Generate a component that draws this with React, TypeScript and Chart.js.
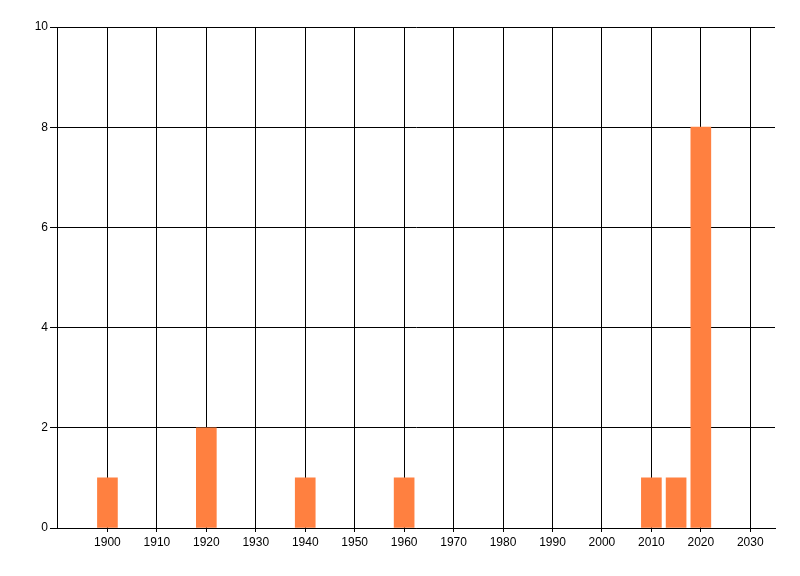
import React, { useEffect, useRef } from "react";
import { Chart, registerables } from "chart.js";

Chart.register(...registerables);

const years = [1900, 1920, 1940, 1960, 2010, 2015, 2020];
const counts = [1, 2, 1, 1, 1, 1, 8];
const xTickValues = [1900, 1910, 1920, 1930, 1940, 1950, 1960, 1970, 1980, 1990, 2000, 2010, 2020, 2030];
const yTickValues = [0, 2, 4, 6, 8, 10];

export default function App() {
  const ref = useRef<HTMLCanvasElement | null>(null);
  useEffect(() => {
    if (!ref.current) return;
    const font = { family: "'Liberation Sans', Arial, sans-serif", size: 12 };
    const chart = new Chart(ref.current, {
      type: "bar",
      data: {
        datasets: [
          {
            data: years.map((y, i) => ({ x: y, y: counts[i] })),
            backgroundColor: "#FF8040",
            borderWidth: 0,
            barThickness: 20,
          },
        ],
      },
      options: {
        animation: false,
        responsive: false,
        maintainAspectRatio: false,
        layout: { padding: { top: 27, right: 25, left: 0, bottom: 0 } },
        plugins: { legend: { display: false }, tooltip: { enabled: false } },
        scales: {
          x: {
            type: "linear",
            min: 1889.8,
            max: 2035,
            offset: false,
            afterBuildTicks: (scale: any) => {
              scale.ticks = xTickValues.map((v) => ({ value: v }));
            },
            afterFit: (scale: any) => {
              scale.height = 48;
            },
            grid: { color: "#000", lineWidth: 1, tickLength: 4, offset: false, drawOnChartArea: true },
            border: { color: "#000", width: 1 },
            ticks: { color: "#000", font, padding: 3, maxRotation: 0, autoSkip: false, callback: (v: any) => String(v) },
          },
          y: {
            min: 0,
            max: 10,
            afterBuildTicks: (scale: any) => {
              scale.ticks = yTickValues.map((v) => ({ value: v }));
            },
            afterFit: (scale: any) => {
              scale.width = 57;
            },
            grid: { color: "#000", lineWidth: 1, tickLength: 7 },
            border: { color: "#000", width: 1 },
            ticks: { color: "#000", font, padding: 2 },
          },
        },
      },
    });
    return () => chart.destroy();
  }, []);
  return (
    <div style={{ position: "fixed", left: 0, top: 0, width: 800, height: 576, background: "#fff" }}>
      <canvas ref={ref} width={800} height={576} style={{ width: 800, height: 576 }} />
    </div>
  );
}
